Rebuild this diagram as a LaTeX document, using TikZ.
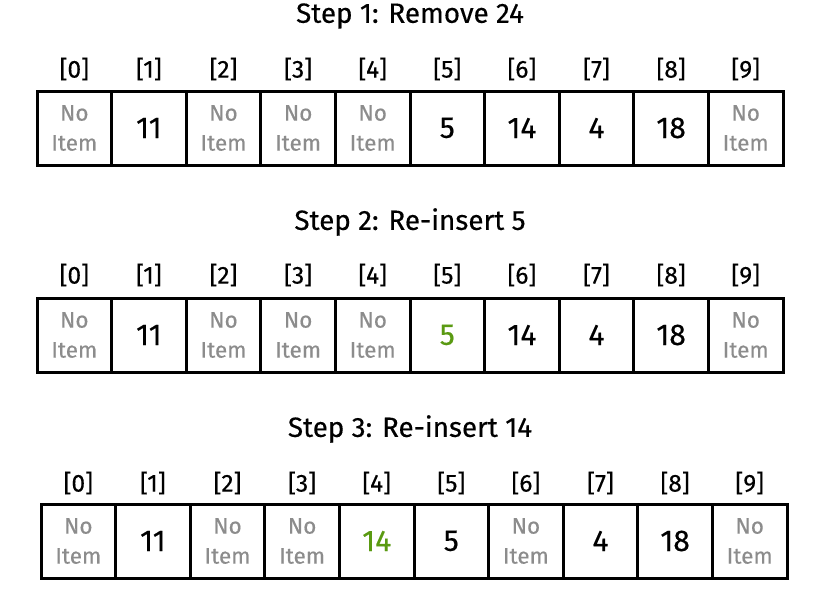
\documentclass[tikz,border=0pt]{standalone}
\usepackage{fontspec}
\setmainfont{Fira Sans}[FakeBold=0.35]
\definecolor{nogray}{HTML}{8C8C8C}
\definecolor{newgreen}{HTML}{5A9A12}
\tikzset{
  cell/.style={draw=black, line width=3pt, minimum width=74.6pt, minimum height=74pt, inner sep=0pt, outer sep=0pt, anchor=center},
  empty/.style={cell, text=nogray, align=center, font=\fontsize{22.5}{30}\selectfont},
  full/.style={cell, text=black, font=\fontsize{30}{32}\selectfont},
  fresh/.style={cell, text=newgreen, font=\fontsize{30}{32}\selectfont},
  idx/.style={font=\fontsize{24.5}{26}\selectfont, inner sep=0pt},
  title/.style={font=\fontsize{27.8}{30}\selectfont, inner sep=0pt}
}
\begin{document}
\begin{tikzpicture}[x=1pt,y=-1pt]
\useasboundingbox (0,0) rectangle (833,597);
% titles
\node[title] (t1) at (410,16) {Step 1: Remove 24};
\node[title] (t2) at (410,222) {Step 2: Re-insert 5};
\node[title] (t3) at (410,429) {Step 3: Re-insert 14};
% row 1
\foreach \s/\t [count=\i from 0] in {empty/{No\\Item},full/11,empty/{No\\Item},empty/{No\\Item},empty/{No\\Item},full/5,full/14,full/4,full/18,empty/{No\\Item}}{
  \node[\s] (a\i) at ({37+74.6*(\i+0.5)},128) {\t};
  \node[idx] (ia\i) at ({37+74.6*(\i+0.5)},69) {[\i]};
}
% row 2
\foreach \s/\t [count=\i from 0] in {empty/{No\\Item},full/11,empty/{No\\Item},empty/{No\\Item},empty/{No\\Item},fresh/5,full/14,full/4,full/18,empty/{No\\Item}}{
  \node[\s] (b\i) at ({37+74.6*(\i+0.5)},335) {\t};
  \node[idx] (ib\i) at ({37+74.6*(\i+0.5)},275) {[\i]};
}
% row 3
\foreach \s/\t [count=\i from 0] in {empty/{No\\Item},full/11,empty/{No\\Item},empty/{No\\Item},fresh/14,full/5,empty/{No\\Item},full/4,full/18,empty/{No\\Item}}{
  \node[\s] (c\i) at ({41+74.6*(\i+0.5)},541) {\t};
  \node[idx] (ic\i) at ({41+74.6*(\i+0.5)},483) {[\i]};
}
\end{tikzpicture}
\end{document}
